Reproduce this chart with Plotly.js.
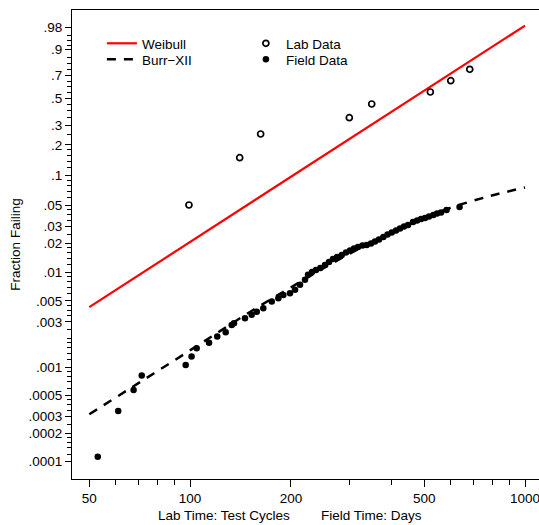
<!DOCTYPE html>
<html>
<head>
<meta charset="utf-8">
<script src="https://cdn.plot.ly/plotly-3.0.1.min.js"></script>
<style>html,body{margin:0;padding:0;background:#fff;}#chart{width:539px;height:525px;}</style>
</head>
<body>
<div id="chart"></div>
<script>
// ---- data ----
var weibullTime = [50, 1000];
var weibullF = [0.0043, 0.983];

var burrTime = [50.0, 66.15, 87.1, 114.7, 150.9, 198.7, 261.6, 344.5, 453.5, 597.2, 786.1, 1000];
var burrF = [0.000317, 0.000594, 0.0011, 0.00205, 0.00382, 0.00684, 0.01208, 0.0203, 0.0320, 0.0469, 0.0623, 0.0761];

var labTime = [99.2, 140.6, 162.4, 298.8, 348.5, 521.5, 600.1, 683.8];
var labF = [0.0504, 0.1508, 0.2526, 0.3513, 0.4535, 0.5548, 0.6554, 0.7549];

var fieldTime = [53.0, 61.0, 67.8, 71.7, 97.0, 101.0, 104.6, 113.9, 120.5, 127.7, 133.1, 135.2, 145.8, 152.7,
  158.1, 165.4, 175.3, 183.4, 189.8, 198.7, 205.7, 212.9, 220.3, 224.9, 231.2, 237.6, 244.8, 252.8, 259.8,
  267.1, 274.5, 283.6, 292.1, 300.2, 308.6, 317.1, 327.1, 336.7, 346.8, 356.5, 366.4, 377.5, 388.5, 399.9,
  411.9, 423.3, 435.2, 447.3, 462.9, 476.1, 489.3, 502.9, 516.8, 532.4, 546.1, 561.4, 583.1, 637.5];
var fieldF = [0.000113, 0.000344, 0.000573, 0.000815, 0.00105, 0.00129, 0.00158, 0.00181, 0.0021, 0.00233,
  0.00279, 0.0029, 0.00328, 0.00356, 0.00385, 0.00418, 0.00491, 0.00534, 0.00578, 0.00603, 0.00653, 0.00738,
  0.00833, 0.00941, 0.01007, 0.01057, 0.0111, 0.01193, 0.01283, 0.0138, 0.01448, 0.0152, 0.01614, 0.01694,
  0.01779, 0.01843, 0.0191, 0.01934, 0.02005, 0.02105, 0.02208, 0.02344, 0.0249, 0.02612, 0.02742, 0.02876,
  0.03017, 0.03127, 0.03362, 0.03484, 0.0361, 0.03698, 0.03833, 0.03972, 0.04117, 0.04216, 0.04474, 0.04806];

var xTickVals = [50, 100, 200, 500, 1000];
var xTickText = ['50', '100', '200', '500', '1000'];
var xMinorVals = [60, 70, 80, 90, 300, 400, 600, 700, 800, 900];

var yTickF = [0.0001, 0.0002, 0.0003, 0.0005, 0.001, 0.003, 0.005, 0.01, 0.02, 0.03, 0.05, 0.1, 0.2, 0.3, 0.5, 0.7, 0.9, 0.98];
var yTickText = ['.0001', '.0002', '.0003', '.0005', '.001', '.003', '.005', '.01', '.02', '.03', '.05', '.1', '.2', '.3', '.5', '.7', '.9', '.98'];
var yMinorF = [0.00012, 0.00014, 0.00016, 0.00018, 0.00025, 0.00035, 0.0004, 0.00045, 0.0006, 0.0007, 0.0008, 0.0009,
  0.0012, 0.0014, 0.0016, 0.0018, 0.002, 0.0025, 0.0035, 0.004, 0.0045, 0.006, 0.007, 0.008, 0.009,
  0.012, 0.014, 0.016, 0.018, 0.025, 0.035, 0.04, 0.045, 0.06, 0.07, 0.08, 0.09,
  0.12, 0.14, 0.16, 0.18, 0.25, 0.35, 0.4, 0.45, 0.55, 0.6, 0.65, 0.75, 0.8, 0.85, 0.92, 0.94, 0.96];

// Weibull probability scale: plot -ln(1-F) on a log axis
function wb(F) { return -Math.log(1 - F); }
function wbAll(a) { return a.map(wb); }

var FONT = 'Liberation Sans, Arial, Helvetica, sans-serif';

var traces = [
  {x: weibullTime, y: wbAll(weibullF), type: 'scatter', mode: 'lines', name: 'Weibull',
   line: {color: '#ff0000', width: 2.2}, legend: 'legend'},
  {x: labTime, y: wbAll(labF), type: 'scatter', mode: 'markers', name: 'Lab Data',
   marker: {symbol: 'circle-open', size: 6, color: '#000000', line: {width: 1.7, color: '#000000'}}, legend: 'legend'},
  {x: burrTime, y: wbAll(burrF), type: 'scatter', mode: 'lines', name: 'Burr\u2212XII',
   line: {color: '#000000', width: 2.5, dash: '9px,8px', shape: 'spline'}, legend: 'legend2'},
  {x: fieldTime, y: wbAll(fieldF), type: 'scatter', mode: 'markers', name: 'Field Data',
   marker: {symbol: 'circle', size: 6.5, color: '#000000'}, legend: 'legend2'}
];

var legendCommon = {xanchor: 'left', yanchor: 'top', bgcolor: 'rgba(0,0,0,0)', borderwidth: 0,
  font: {family: FONT, size: 13.5, color: '#000'}, orientation: 'h', traceorder: 'normal',
  entrywidth: 99, entrywidthmode: 'pixels'};

var layout = {
  width: 539, height: 525,
  margin: {l: 72, r: 0, t: 10, b: 46},
  paper_bgcolor: '#ffffff', plot_bgcolor: '#ffffff',
  font: {family: FONT, size: 13.5, color: '#000000'},
  showlegend: true,
  xaxis: {
    type: 'log', range: [1.6473, 3.0417],
    showline: true, linecolor: '#000', linewidth: 1, mirror: true,
    showgrid: false, zeroline: false,
    ticks: 'outside', ticklen: 7, tickwidth: 1, tickcolor: '#000',
    tickmode: 'array', tickvals: xTickVals, ticktext: xTickText, ticklabeloverflow: 'allow',
    tickfont: {family: FONT, size: 13.5, color: '#000'},
    minor: {tickmode: 'array', tickvals: xMinorVals, ticks: 'outside', ticklen: 5, tickwidth: 1, tickcolor: '#000', showgrid: false}
  },
  yaxis: {
    type: 'log', range: [-4.183, 0.775],
    showline: true, linecolor: '#000', linewidth: 1,
    showgrid: false, zeroline: false,
    ticks: 'outside', ticklen: 6, tickwidth: 1, tickcolor: '#000',
    tickmode: 'array', tickvals: wbAll(yTickF), ticktext: yTickText,
    tickfont: {family: FONT, size: 13.5, color: '#000'},
    minor: {tickmode: 'array', tickvals: wbAll(yMinorF), ticks: 'outside', ticklen: 4, tickwidth: 1, tickcolor: '#000', showgrid: false},
    title: {text: 'Fraction Failing', font: {family: FONT, size: 13.5, color: '#000'}, standoff: 4}
  },
  legend: Object.assign({x: 0.064, y: 0.9616}, legendCommon),
  legend2: Object.assign({x: 0.064, y: 0.9275}, legendCommon),
  annotations: [
    {text: 'Lab Time: Test Cycles', xref: 'paper', yref: 'paper', x: 0.325, y: -0.0981, xanchor: 'center', yanchor: 'bottom',
     showarrow: false, font: {family: FONT, size: 13.5, color: '#000'}},
    {text: 'Field Time: Days', xref: 'paper', yref: 'paper', x: 0.6418, y: -0.0981, xanchor: 'center', yanchor: 'bottom',
     showarrow: false, font: {family: FONT, size: 13.5, color: '#000'}}
  ]
};

Plotly.newPlot('chart', traces, layout, {displayModeBar: false, staticPlot: true});
</script>
</body>
</html>
